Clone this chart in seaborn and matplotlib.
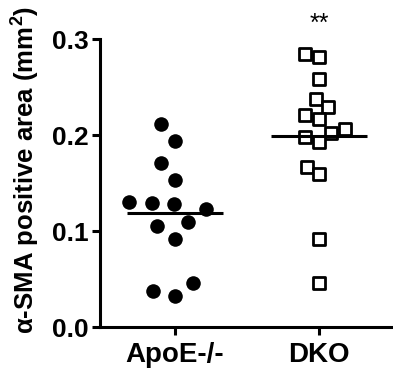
import numpy as np
import pandas as pd
import matplotlib
matplotlib.use("Agg")
import matplotlib.pyplot as plt
import seaborn as sns

# values (mm^2)
groups = ["ApoE-/-", "DKO"]
apoe = [0.2115, 0.194, 0.171, 0.153, 0.130, 0.129, 0.128, 0.123,
        0.110, 0.105, 0.0915, 0.046, 0.0375, 0.032]
dko = [0.285, 0.281, 0.258, 0.238, 0.229, 0.221, 0.217, 0.206,
       0.202, 0.198, 0.193, 0.167, 0.159, 0.092, 0.046]
yticks = [0.0, 0.1, 0.2, 0.3]
signif = "**"

df = pd.DataFrame({
    "group": ["ApoE-/-"] * len(apoe) + ["DKO"] * len(dko),
    "area": apoe + dko,
})

sns.set_style("ticks", {"axes.edgecolor": "black", "xtick.color": "black",
                        "ytick.color": "black", "text.color": "black",
                        "axes.labelcolor": "black"})
plt.rcParams["font.family"] = ["Liberation Sans", "DejaVu Sans"]
plt.rcParams["font.weight"] = "bold"
plt.rcParams["mathtext.fontset"] = "custom"
plt.rcParams["mathtext.rm"] = "Liberation Sans:bold"
plt.rcParams["mathtext.bf"] = "Liberation Sans:bold"

fig = plt.figure(figsize=(3.93, 3.76), dpi=100)
ax = fig.add_axes([0.254, 0.130, 0.746, 0.766])

# filled circles for ApoE-/- (white rim only widens the swarm spacing)
sns.swarmplot(data=df[df.group == "ApoE-/-"], x="group", y="area", order=groups,
              color="black", edgecolor="white", marker="o", size=13,
              linewidth=2.5, ax=ax)
# open squares for DKO
sns.swarmplot(data=df[df.group == "DKO"], x="group", y="area", order=groups,
              color="white", edgecolor="black", marker="s", size=8.2,
              linewidth=2.0, ax=ax)

# mean lines
sns.pointplot(data=df, x="group", y="area", order=groups, estimator="mean",
              errorbar=None, linestyle="none", marker="_", markersize=69,
              markeredgewidth=2.2, color="black", ax=ax)
for ln in ax.lines:
    ln.set_zorder(5)

ax.text(1, 0.316, signif, ha="center", va="center", fontsize=18,
        fontweight="normal")

ax.set_xlim(-0.52, 1.51)
ax.set_ylim(0, 0.3)
ax.set_yticks(yticks)
ax.set_yticklabels([f"{v:.1f}" for v in yticks])
ax.set_xlabel("")
ax.set_ylabel(r"α-SMA positive area (mm$^{\mathbf{2}}$)", fontsize=18.5,
              fontweight="bold")
ax.yaxis.set_label_coords(-0.2, 0.545)
ax.tick_params(axis="y", labelsize=19, width=2.2, length=6, pad=2)
ax.tick_params(axis="x", labelsize=20, width=2.2, length=6, pad=5)
for lab in ax.get_xticklabels() + ax.get_yticklabels():
    lab.set_fontweight("bold")
sns.despine(ax=ax)
for s in ["left", "bottom"]:
    ax.spines[s].set_linewidth(2.2)
for coll in ax.collections:
    coll.set_clip_on(False)

fig.savefig("out.png", dpi=100)
